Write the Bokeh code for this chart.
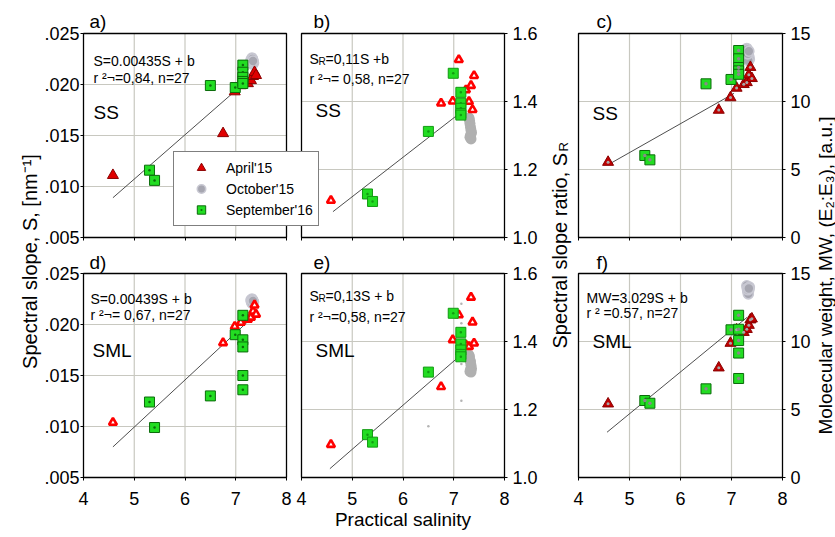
import math
from bokeh.plotting import figure
from bokeh.models import (Range1d, LinearAxis, FixedTicker, CustomJSTickFormatter,
                          Label, Legend, LegendItem)
from bokeh.embed import file_html
from bokeh.resources import INLINE

# ---------------- data ----------------
x_ticks = [4, 5, 6, 7, 8]
S_ticks = [0.005, 0.010, 0.015, 0.020, 0.025]
SR_ticks = [1.0, 1.2, 1.4, 1.6]
MW_ticks = [0, 5, 10, 15]

apr_sal = [4.58, 6.75, 6.98, 7.10, 7.24, 7.30, 7.34, 7.37, 7.40]
oct_sal = [7.30, 7.31, 7.32, 7.33, 7.34, 7.35, 7.33, 7.32, 7.34]
sep_sal = [5.30, 5.40, 6.50, 6.99, 7.14, 7.14, 7.14, 7.14, 7.14]

# a) SS spectral slope
apr_S_ss = [0.0111, 0.0152, 0.0193, 0.0199, 0.0201, 0.0204, 0.0208, 0.0212, 0.0209]
oct_S_ss = [0.0224, 0.0222, 0.0226, 0.0220, 0.0223, 0.0221, 0.0225, 0.0222, 0.0223]
sep_S_ss = [0.0116, 0.0106, 0.0199, 0.0197, 0.0219, 0.0212, 0.0207, 0.0203, 0.0201]
# b) SS slope ratio
apr_SR_ss = [1.109, 1.395, 1.401, 1.523, 1.434, 1.400, 1.447, 1.376, 1.476]
oct_SR_ss = [1.352, 1.345, 1.335, 1.324, 1.315, 1.308, 1.300, 1.295, 1.290]
sep_SR_ss = [1.128, 1.106, 1.312, 1.483, 1.427, 1.395, 1.380, 1.365, 1.360]
# c) SS molecular weight
apr_MW_ss = [5.54, 9.37, 10.29, 10.99, 11.26, 11.40, 11.96, 12.52, 11.70]
oct_MW_ss = [13.9, 13.8, 13.6, 13.4, 13.3, 13.1, 13.0, 13.5, 13.7]
sep_MW_ss = [6.03, 5.71, 11.30, 11.62, 13.75, 13.14, 12.50, 12.25, 12.00]
# d) SML spectral slope
apr_S_sml = [0.0104, 0.0182, 0.0198, 0.0202, 0.0205, 0.0207, 0.0213, 0.0219, 0.0210]
oct_S_sml = [0.0224, 0.0222, 0.0225, 0.0221, 0.0223, 0.0222, 0.0224, 0.0221, 0.0223]
sep_S_sml = [0.0124, 0.0099, 0.0130, 0.0190, 0.0209, 0.0185, 0.0178, 0.0150, 0.0136]
# e) SML slope ratio
apr_SR_sml = [1.097, 1.267, 1.405, 1.478, 1.390, 1.385, 1.530, 1.457, 1.395]
oct_SR_sml = [1.360, 1.355, 1.345, 1.340, 1.330, 1.320, 1.317, 1.312, 1.310]
sep_SR_sml = [1.126, 1.104, 1.310, 1.483, 1.427, 1.393, 1.375, 1.362, 1.355]
small_sal_e = [6.50, 7.15, 7.15, 7.15, 7.15]
small_SR_e = [1.151, 1.511, 1.454, 1.334, 1.226]
# f) SML molecular weight
apr_MW_sml = [5.42, 8.07, 9.88, 10.86, 10.68, 10.90, 11.20, 11.60, 11.67]
oct_MW_sml = [14.1, 13.9, 13.7, 13.6, 13.8, 14.0, 13.5, 13.8, 13.9]
sep_MW_sml = [5.66, 5.46, 6.52, 10.86, 11.93, 10.07, 9.15, 7.28, 10.90]

# regression lines (end points)
fit_x_a = [4.58, 7.25]; fit_y_a = [0.0089, 0.0205]
fit_x_b = [4.62, 7.14]; fit_y_b = [1.076, 1.368]
fit_x_c = [4.59, 7.05]; fit_y_c = [5.37, 10.60]
fit_x_d = [4.58, 7.22]; fit_y_d = [0.0080, 0.0202]
fit_x_e = [4.56, 7.13]; fit_y_e = [1.026, 1.359]
fit_x_f = [4.56, 7.31]; fit_y_f = [3.33, 11.79]

series_names = ["April'15", "October'15", "September'16"]
panel_letters = ["a)", "b)", "c)", "d)", "e)", "f)"]

# ---------------- layout ----------------
FONT = "Liberation Sans"
W, H = 835, 537
COL_L = [83, 301, 578]
COL_R = [286, 504, 782]
ROW_T = [33, 273]
ROW_B = [237, 477]

RED = "#e00000"; DKRED = "#8a0000"; RED2 = "#ff0000"; MRED = "#c00000"
GREEN = "#22dd22"; DKGREEN = "#0b6b0b"; MGREEN = "#129a12"
GREY = "#a6a6b0"; LTGREY = "#c8c8d2"; GREY2 = "#b0b0b0"
GRID = "#c8c8c0"

fmt_x = CustomJSTickFormatter(code="return tick.toFixed(0)")
fmt_blank = CustomJSTickFormatter(code="return ''")
fmt_S = CustomJSTickFormatter(code="return tick.toFixed(3).replace(/^0/, '')")
fmt_SR = CustomJSTickFormatter(code="return tick.toFixed(1)")
fmt_MW = CustomJSTickFormatter(code="return tick.toFixed(0)")

p = figure(width=W, height=H, x_range=Range1d(0, W), y_range=Range1d(0, H),
           x_axis_type=None, y_axis_type=None, toolbar_location=None,
           output_backend="svg", min_border=0, title=None)
p.outline_line_color = None
p.background_fill_color = "white"
p.border_fill_color = "white"

xr = {}
for c in range(3):
    lo, hi = x_ticks[0], x_ticks[-1]
    k = (hi - lo) / (COL_R[c] - COL_L[c])
    s = lo - COL_L[c] * k
    xr[f"x{c}"] = Range1d(s, s + W * k)

tri_full = dict(marker="triangle", size=11, fill_color=RED, line_color=DKRED, line_width=1)
tri_open = dict(marker="triangle", size=8, fill_color="white", line_color=RED2, line_width=2.6)
tri_dark = dict(marker="triangle", size=11, fill_color=MRED, line_color=DKRED, line_width=1)
circ_ring = dict(marker="circle", size=10, fill_color=GREY, line_color=LTGREY, line_width=1.6)
circ_flat = dict(marker="circle", size=11, fill_color=GREY2, line_color=None)
sq_dark = dict(marker="square_dot", size=10, fill_color=GREEN, line_color=DKGREEN, line_width=1)
sq_light = dict(marker="square_dot", size=10, fill_color=GREEN, line_color=MGREEN, line_width=1)

panels = [
    ("a", 0, 0, S_ticks, fmt_S, "left", apr_S_ss, oct_S_ss, sep_S_ss, fit_x_a, fit_y_a,
     tri_full, circ_ring, sq_dark, False),
    ("b", 1, 0, SR_ticks, fmt_SR, "right", apr_SR_ss, oct_SR_ss, sep_SR_ss, fit_x_b, fit_y_b,
     tri_open, circ_flat, sq_light, False),
    ("c", 2, 0, MW_ticks, fmt_MW, "right", apr_MW_ss, oct_MW_ss, sep_MW_ss, fit_x_c, fit_y_c,
     tri_dark, circ_ring, sq_dark, True),
    ("d", 0, 1, S_ticks, fmt_S, "left", apr_S_sml, oct_S_sml, sep_S_sml, fit_x_d, fit_y_d,
     tri_open, circ_ring, sq_dark, False),
    ("e", 1, 1, SR_ticks, fmt_SR, "right", apr_SR_sml, oct_SR_sml, sep_SR_sml, fit_x_e, fit_y_e,
     tri_open, circ_flat, sq_light, False),
    ("f", 2, 1, MW_ticks, fmt_MW, "right", apr_MW_sml, oct_MW_sml, sep_MW_sml, fit_x_f, fit_y_f,
     tri_dark, circ_ring, sq_dark, True),
]

yr = {}
for key, c, r, ticks, *_ in panels:
    lo, hi = ticks[0], ticks[-1]
    k = (hi - lo) / (ROW_B[r] - ROW_T[r])
    s = lo - (H - ROW_B[r]) * k
    yr[f"y{key}"] = Range1d(s, s + H * k)

p.extra_x_ranges = xr
p.extra_y_ranges = yr

axis_common = dict(major_tick_in=0, major_tick_out=3, minor_tick_in=0, minor_tick_out=0,
                   axis_line_color="black", axis_line_width=1,
                   major_tick_line_color="black", major_label_text_font=FONT,
                   major_label_text_font_size="18px", major_label_text_color="black")

legend_renderers = {}
for (key, c, r, ticks, fmt, side, apr, octv, sep, fx, fy,
     st_apr, st_oct, st_sep, grey_dots) in panels:
    kw = dict(x_range_name=f"x{c}", y_range_name=f"y{key}")
    x0, x1 = x_ticks[0], x_ticks[-1]
    ylo, yhi = ticks[0], ticks[-1]
    gx = x_ticks[1:-1]
    p.segment(x0=gx, y0=[ylo] * len(gx), x1=gx, y1=[yhi] * len(gx),
              line_color=GRID, line_width=1.2, **kw)
    gy = ticks[1:-1]
    p.segment(x0=[x0] * len(gy), y0=gy, x1=[x1] * len(gy), y1=gy,
              line_color=GRID, line_width=1.2, **kw)
    p.line(fx, fy, line_color="#3a3a3a", line_width=0.9, **kw)
    r_oct = p.scatter(oct_sal, octv, **st_oct, **kw)
    r_apr = p.scatter(apr_sal, apr, **st_apr, **kw)
    r_sep = p.scatter(sep_sal, sep, **st_sep, **kw)
    if grey_dots:
        p.scatter(apr_sal, apr, marker="circle", size=3, fill_color="#a8a8a8", line_color=None, **kw)
        p.scatter(sep_sal, sep, marker="circle", size=3.5, fill_color="#8a8a8a", line_color=None, **kw)
    if key == "e":
        p.scatter(small_sal_e, small_SR_e, marker="circle", size=2.5,
                  fill_color="#b4b4b4", line_color=None, **kw)
    p.quad(left=[x0], right=[x1], bottom=[ylo], top=[yhi], fill_color=None,
           line_color="black", line_width=1.3, **kw)
    if key == "a":
        legend_renderers = {"apr": r_apr, "oct": r_oct, "sep": r_sep}

    xa = LinearAxis(fixed_location=ylo, bounds=(x0, x1),
                    ticker=FixedTicker(ticks=x_ticks, minor_ticks=[]),
                    formatter=fmt_x if r == 1 else fmt_blank,
                    major_label_standoff=11, **axis_common, **kw)
    if key == "e":
        xa.axis_label = "Practical salinity"
        xa.axis_label_text_font = FONT
        xa.axis_label_text_font_size = "19px"
        xa.axis_label_text_font_style = "normal"
        xa.axis_label_text_color = "black"
        xa.axis_label_standoff = 1
    p.add_layout(xa, "below")
    ya = LinearAxis(fixed_location=x0 if side == "left" else x1, bounds=(ylo, yhi),
                    ticker=FixedTicker(ticks=ticks, minor_ticks=[]), formatter=fmt,
                    major_label_standoff=1 if side == "left" else 5, **axis_common, **kw)
    p.add_layout(ya, side)

legend = Legend(items=[
    LegendItem(label=series_names[0], renderers=[legend_renderers["apr"]]),
    LegendItem(label=series_names[1], renderers=[legend_renderers["oct"]]),
    LegendItem(label=series_names[2], renderers=[legend_renderers["sep"]]),
], location=(173, H - 226), orientation="vertical", margin=0, padding=5,
    spacing=0, glyph_height=21, glyph_width=44, label_height=21, label_standoff=3,
    label_text_font=FONT, label_text_font_size="14px", label_text_color="black",
    border_line_color="black", border_line_width=1,
    background_fill_color="white", background_fill_alpha=1.0)
p.add_layout(legend, "center")


def txt(x, y_top, text, size, align="left", angle=0.0):
    p.add_layout(Label(x=x, y=H - y_top, x_units="screen", y_units="screen", text=text,
                       text_font=FONT, text_font_size=f"{size}px", text_align=align,
                       text_baseline="alphabetic", angle=angle, text_color="black"))


# panel letters
for (lx, ly), letter in zip([(89, 21), (313, 21), (596, 21), (89, 262), (313, 262), (596, 262)],
                            panel_letters):
    txt(lx, ly, letter, 19)

# a)
txt(93, 60, "S=0.00435S + b", 14)
txt(93, 77, "r \u00b2\u00ac=0,84, n=27", 14)
txt(93, 112, "SS", 19)
# b)
txt(309, 58, "S", 14); txt(318, 61, "R", 10); txt(325, 58, "=0,11S +b", 14)
txt(309, 78, "r \u00b2\u00ac= 0,58, n=27", 14)
txt(315, 110, "SS", 19)
# c)
txt(592, 113, "SS", 19)
# d)
txt(90, 298, "S=0.00439S + b", 14)
txt(90, 314, "r \u00b2\u00ac= 0,67, n=27", 14)
txt(92, 350, "SML", 19)
# e)
txt(309, 295, "S", 14); txt(318, 298, "R", 10); txt(325, 295, "=0,13S + b", 14)
txt(309, 316, "r \u00b2\u00ac=0,58, n=27", 14)
txt(315, 350, "SML", 19)
# f)
txt(586, 297, "MW=3.029S + b", 14)
txt(586, 312, "r \u00b2 =0.57, n=27", 14)
txt(592, 341, "SML", 19)

# axis titles (rotated)
txt(29, 261, "Spectral slope, S, [nm\u207b\u00b9]", 20, align="center", angle=math.pi / 2)
txt(559, 348, "Spectral slope ratio, S", 20, align="left", angle=math.pi / 2)
txt(563, 348 - 197, "R", 13, align="left", angle=math.pi / 2)
txt(825, 275, "Moloecular weight, MW, (E\u2082:E\u2083), [a.u.]", 19, align="center",
    angle=math.pi / 2)

open("out.html", "w").write(file_html(p, INLINE))
